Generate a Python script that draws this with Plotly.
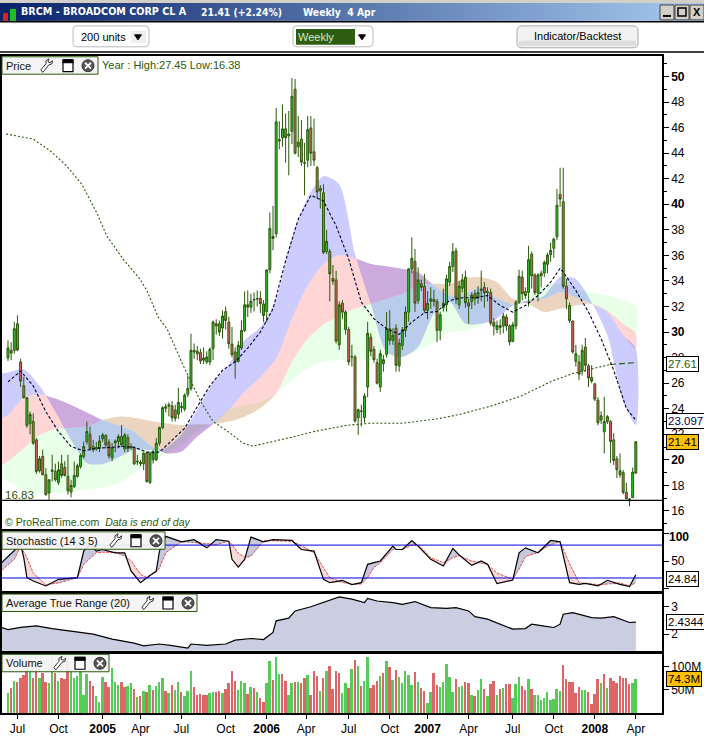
import plotly.graph_objects as go

W, H = 704, 736
FONT = "Liberation Sans"
DKGREEN = "#2a5a0a"

price_open = [
 27.97,28.57,28.57,30.65,27.66,25.8,22.68,22.83,23.0,21.56,
 19.14,20.26,18.83,17.4,19.1,19.1,18.23,19.69,19.4,18.7,
 17.48,17.92,18.7,19.48,20.26,21.43,22.0,21.04,20.86,20.9,
 21.64,21.9,21.38,20.18,21.32,21.43,21.82,20.86,21.74,21.04,
 20.96,19.9,19.69,19.69,20.52,18.23,20.0,20.0,21.3,22.52,
 24.03,24.2,24.23,23.9,23.58,24.1,23.97,25.12,25.58,28.57,
 28.5,28.39,27.97,27.66,27.66,28.7,30.65,30.65,30.31,31.6,
 30.78,29.06,28.44,27.71,28.75,30.13,32.13,31.95,32.5,32.58,
 32.65,32.2,31.6,34.88,37.48,37.7,45.06,45.2,45.9,45.35,
 45.7,49.0,44.5,45.1,43.2,43.45,45.97,44.1,42.86,41.25,
 40.9,36.3,36.3,34.2,34.08,29.0,32.26,30.2,30.2,28.05,
 28.05,23.3,23.8,23.3,25.7,29.6,28.65,27.6,25.7,27.53,
 28.26,30.26,29.35,30.3,27.35,28.96,30.13,31.56,34.94,35.53,
 32.47,33.77,33.58,31.7,32.4,32.55,32.4,30.13,31.9,32.13,
 33.9,35.14,36.36,32.13,33.43,34.3,32.29,32.39,33.0,32.65,
 33.25,33.5,33.1,33.1,30.78,30.2,30.5,30.47,31.17,30.47,
 29.27,30.47,32.34,34.3,33.17,33.1,36.1,34.47,33.04,34.4,
 34.62,35.3,36.05,36.55,37.45,40.78,40.2,33.58,32.08,30.86,
 27.7,27.66,27.0,28.83,27.35,26.44,25.95,24.67,23.1,22.2,
 23.0,23.0,21.56,20.08,18.83,19.0,17.45,16.8,17.06,18.96]
price_high = [
 29.35,29.2,30.8,31.3,27.9,26.5,24.9,23.77,23.64,21.7,
 20.3,20.8,19.35,18.44,20.4,19.7,19.87,20.39,19.9,20.39,
 18.44,19.87,19.7,20.5,21.43,22.99,22.6,21.56,21.4,21.9,
 22.1,22.0,21.6,21.3,21.6,22.0,22.73,22.1,22.0,21.3,
 21.05,20.4,20.0,20.6,20.6,20.6,20.8,21.69,22.6,24.2,
 24.4,24.5,24.6,24.3,25.64,24.5,25.2,26.6,29.87,29.1,
 28.9,28.7,28.8,28.5,28.8,30.9,31.0,30.9,31.7,32.0,
 31.2,30.4,28.8,29.3,30.9,33.17,33.25,33.0,33.1,33.25,
 33.2,32.5,34.9,39.35,39.87,47.53,46.5,47.8,47.1,47.3,
 49.87,49.8,46.9,46.6,44.8,46.9,46.9,46.7,43.0,41.5,
 41.56,38.0,36.5,35.25,34.8,32.4,32.5,31.7,30.4,29.0,
 28.2,24.0,24.3,25.2,30.8,29.9,28.9,27.9,28.6,28.2,
 31.56,31.7,30.3,30.6,29.5,30.4,32.0,35.0,37.4,36.5,
 35.06,34.1,34.55,33.2,33.5,33.3,32.6,31.6,33.4,34.5,
 35.5,36.96,36.6,34.0,34.55,34.8,32.6,33.1,33.3,33.6,
 34.8,33.9,33.5,33.4,31.1,30.9,31.0,31.5,31.4,30.6,
 30.8,32.5,34.88,34.8,33.5,36.75,36.3,34.6,34.6,34.8,
 35.6,36.2,37.0,37.4,41.2,42.86,42.86,34.15,32.3,30.9,
 29.0,28.2,29.0,29.53,27.5,27.4,26.0,24.9,23.8,24.94,
 23.5,23.1,22.08,20.3,20.5,19.2,18.2,17.0,19.4,21.45]
price_low = [
 27.74,27.8,28.3,28.5,25.7,24.8,22.5,22.0,21.17,18.9,
 19.0,18.8,17.2,16.8,18.3,18.3,18.05,18.6,18.7,17.27,
 17.06,17.8,18.6,19.3,20.1,21.2,20.7,20.6,20.7,20.6,
 21.4,20.9,20.1,19.9,20.6,20.9,21.0,20.6,20.6,20.8,
 19.6,19.6,19.5,19.2,18.2,18.1,19.7,19.9,21.1,22.4,
 23.7,23.4,23.0,23.0,23.2,23.7,23.8,24.9,25.4,27.9,
 27.8,27.5,27.5,27.5,27.4,27.8,29.8,29.7,29.5,30.2,
 28.7,28.0,26.36,27.6,28.6,30.0,31.17,31.5,31.6,32.0,
 31.5,30.8,30.78,34.6,36.4,37.4,44.3,44.5,43.25,42.26,
 44.7,43.9,43.7,43.0,40.7,42.9,43.0,43.0,40.4,39.66,
 36.1,36.1,32.4,33.7,29.1,28.6,31.0,29.8,27.4,27.3,
 22.9,21.95,22.6,22.9,24.9,28.1,27.6,25.9,25.3,26.9,
 28.0,29.0,29.0,26.9,26.9,28.6,29.6,30.8,34.6,31.56,
 32.2,33.2,31.5,31.0,31.8,32.0,29.2,29.35,31.6,31.6,
 33.6,34.7,32.2,31.8,33.1,31.9,30.65,31.8,32.1,32.2,
 32.4,31.9,32.4,30.5,29.74,29.9,29.8,29.9,30.1,28.96,
 29.2,30.2,32.2,32.5,32.6,32.0,33.4,32.9,32.4,33.5,
 34.3,34.6,35.5,35.8,37.2,39.8,33.4,31.8,30.7,28.3,
 27.3,26.23,26.6,26.9,25.7,26.0,24.6,22.7,22.8,20.5,
 22.8,19.74,19.6,18.57,18.6,17.3,16.9,16.36,17.0,18.9]
price_close = [
 28.75,28.36,30.26,28.6,26.16,24.86,24.86,23.56,21.3,19.1,
 20.08,18.83,17.27,18.44,19.2,18.44,19.22,18.78,18.78,17.58,
 18.0,18.78,19.53,20.34,21.04,22.21,20.86,20.78,20.96,21.48,
 21.95,21.17,20.31,20.96,21.48,21.82,21.17,21.95,20.86,20.96,
 19.69,19.85,19.82,20.52,18.31,20.52,20.6,21.3,22.52,24.08,
 24.16,24.3,23.3,23.25,24.49,24.16,25.06,25.58,28.57,28.44,
 28.3,27.74,27.8,28.05,28.65,30.78,30.47,30.0,31.25,30.9,
 29.09,28.23,27.66,28.96,30.13,32.13,31.95,32.42,32.55,32.62,
 32.23,31.3,34.86,38.1,37.32,46.44,44.96,45.9,45.2,45.5,
 48.44,44.0,44.86,43.3,43.25,45.84,44.0,43.45,40.96,41.06,
 36.23,37.1,34.55,33.97,29.3,32.13,31.56,31.56,27.66,28.07,
 23.04,23.92,23.82,25.0,29.9,28.5,27.84,26.0,28.3,27.84,
 30.26,29.35,29.74,27.4,29.14,30.18,31.56,34.94,35.77,32.26,
 34.08,33.5,31.7,32.26,32.6,32.4,30.13,31.35,32.26,34.16,
 35.14,36.28,32.6,33.58,34.08,32.29,32.03,32.9,32.6,33.1,
 33.37,33.06,33.15,30.7,30.47,30.52,30.35,31.25,30.47,29.22,
 30.57,32.34,34.36,33.0,32.86,35.66,34.4,33.1,34.47,34.6,
 35.45,36.03,36.4,37.27,39.92,40.4,33.58,32.6,30.9,28.44,
 28.3,26.7,28.57,27.4,26.4,26.16,24.75,22.9,23.45,23.0,
 23.38,21.43,19.95,19.22,19.14,17.45,16.96,16.94,19.04,21.41]
weeks = list(range(len(price_close)))

band_weeks = [-2] + list(range(0, 200, 5)) + [199]
ma_a = [26.75,26.83,27.09,25.79,23.77,21.56,19.74,19.66,20.18,20.78,20.78,20.91,22.0,23.9,26.05,27.48,
        29.35,30.39,32.6,37.4,40.52,42.2,41.56,36.1,32.2,28.44,28.05,28.83,31.43,32.34,
        30.65,30.65,31.04,32.08,32.34,32.86,34.3,34.16,32.34,29.74,24.55,22.73]
ma_b = [23.3,23.5,24.86,25.12,24.8,24.29,23.71,23.12,22.68,22.2,21.17,20.52,20.65,21.82,22.78,23.9,
        25.32,26.49,27.92,31.04,33.64,35.32,36.03,35.77,35.32,35.14,34.94,34.68,33.64,32.86,
        32.99,33.5,32.6,32.2,32.47,32.6,33.12,32.73,32.2,31.56,29.74,28.7]
ma_c = [19.61,19.87,20.91,21.95,22.42,22.52,22.6,23.12,23.38,23.3,23.06,22.86,22.73,22.78,22.78,22.99,
        23.38,24.03,25.19,27.66,29.48,30.57,31.3,31.82,32.2,32.6,32.99,33.64,33.77,33.77,
        34.2,34.29,33.9,32.6,32.2,31.56,31.82,32.08,32.2,31.69,30.65,29.87]
ma_d = [18.57,18.31,17.66,17.4,17.4,17.48,17.66,17.79,18.18,18.96,19.87,20.52,21.17,22.21,22.94,23.9,
        24.29,24.55,25.19,26.23,27.14,27.71,27.79,27.79,27.79,28.05,28.05,28.57,29.22,30.0,
        30.13,30.52,31.3,32.29,32.86,33.64,33.77,33.43,33.12,32.86,32.47,32.08]

ma20_weeks = [0,4,8,12,16,20,24,28,32,36,40,44,48,52,56,60,64,68,72,76,80,84,88,92,96,100,104,108,112,116,
              120,124,128,132,136,140,144,148,152,156,160,164,168,172,175,176,180,184,188,192,196,199]
ma20 = [26.1,26.94,25.79,23.77,22.21,21.04,20.7,20.91,20.96,21.04,20.99,20.6,20.6,21.56,22.47,24.16,25.79,27.01,
        27.66,28.75,30.0,31.82,35.58,38.83,40.7,40.26,38.31,35.71,32.34,31.04,30.26,29.82,30.78,31.51,31.61,32.47,
        32.68,32.68,32.86,32.08,31.56,32.08,32.86,33.9,34.99,34.68,33.25,31.56,29.48,27.01,24.03,23.097]

ma200_weeks = [-0.6,8,13.3,18.6,23.4,28.1,31.3,32.9,36.5,41.8,44,47.6,50.4,55.5,61,65,70.4,74.5,77.6,90.4,96.7,107.4,114.7,125,136,143.3,
               153.8,162.3,172.8,179,185.5,190.8]
ma200 = [45.5,45.1,44.2,43.0,41.56,39.35,37.53,36.96,35.7,34.16,33.25,31.17,30.26,27.4,24.6,23.0,22.1,21.3,21.07,21.8,22.2,22.7,22.86,
         22.86,23.2,23.56,24.26,24.96,26.2,26.75,27.15,27.46]
ma200_tail_weeks = [190.8, 199]
ma200_tail = [27.46, 27.61]
low_level = 16.83

stoch_weeks = [-2,2,4,5,6,8,12,16,22,24,26,28,30,34,37,39,42,44,47,48,50,55,59,63,66,70,71,73,75,77,81,84,90,93,97,
               100,102,106,109,112,114,116,118,122,123,125,128,130,134,138,141,143,147,150,152,155,160,162,164,168,
               172,175,178,181,183,187,190,194,197,199]
stoch_k = [47,68,80,56,19.6,13.6,4.5,16.6,19.6,68,80,68,71,65,65,32,10.5,19.6,32,68,95,85,89,74,89,86,53,39,53,93.6,85,89,87.5,71,68,
           16.6,10.5,14.8,7,10.5,44,47,50,77,71,71,87.5,77,53,41,73,61,42,50,44,8.7,15.4,65,74,65,
           87.5,85,10.5,7.5,9.3,4.5,14.8,7.5,3.3,24.84]
stoch_d = [33,53,77,66,56,28,7,10,19.6,44,55,65,66,66,59,50,25.7,20,30,37,65,85,84,81,80,86,80,64,57,59,87,87,86,78,65,
           38,19.6,11,7.5,8,20,38,47,71,71,71,79,80,56,47,56,60,50,45.7,43.7,28,16.6,35,58,66,
           80,85,45,10.5,9,7,8,10,4.5,10.5]
stoch_levels = [79, 19]

atr_weeks = [-2,0,4,9,14,21,27,33,40,43,48,52,57,58,63,69,72,77,81,84,85,89,91,96,99,105,109,113,114,117,122,125,129,
             134,139,142,146,148,152,157,160,164,166,170,173,175,176,179,182,185,188,192,197,199]
atr = [2.24,2.16,2.24,2.30,2.20,2.08,2.0,1.82,1.67,1.57,1.64,1.58,1.49,1.64,1.59,1.64,1.78,1.84,1.80,2.06,2.48,2.58,
       2.84,2.99,3.11,3.35,3.27,3.14,3.29,3.2,3.14,3.08,3.18,2.96,2.93,2.96,2.84,2.63,2.54,2.30,2.18,2.2,2.36,2.29,
       2.24,2.36,2.72,2.78,2.70,2.60,2.58,2.63,2.42,2.4344]

volume_m = [
 43.6,53.6,70,66.4,75,82,102,95,75,100,75.7,85.7,66.4,64.3,121,85.7,68.6,75,72.9,116,
 95,75,80.7,91.4,39.3,84.3,70,57.9,36.4,23.6,77,66.4,55.7,96,66.4,60.7,66.4,55.7,57.9,64.3,
 50.7,34.3,36.4,47,45,60,50,57.9,66.4,75,47,43,61.4,50,66.4,45,36.4,47,91.4,57,
 39.3,41.4,39.3,39.3,43,44.3,45,47,43,51.4,64.3,91.4,68.6,50,68.6,64.3,41.4,55.7,54.3,45,
 32,23.6,64.3,111,71.4,120,84.3,84.3,68.6,39.3,64.3,66.4,66.4,64.3,75,82.9,39.3,90,79.3,47,
 75,91.4,100.7,52,90,87,43.6,65,54.3,94.3,
 114,100.7,57.9,68.6,120,53.6,61.4,68.6,79.3,85.7,111.4,98.6,70.7,92,77,64.3,90,81.4,60,87.9,
 66.4,53.6,47,21.4,45,85.7,60,55.7,66.4,105,77,45,72.9,55.7,57.9,66.4,64.3,38.6,36.4,49.3,
 72.9,51.4,36.4,62,68.6,38.6,51.4,53.6,62,62,32,62,77,57.9,48.6,72.9,50.7,38.6,38.6,27.9,
 32,45,27.9,30,51.4,47,102.9,72.9,66.4,66.4,42.9,55.7,49.3,49.3,45,19.3,40.7,72.9,64.3,83.6,
 53.6,75,68.6,64.3,79.3,75,75,62,64.3,74.3]
volume_dir = ("grgrrrrgrr" "grrggrgrrr" "ggggggrrgg" "grrgggrrgg" "rgrgrgrggg"
              "rgrggrgggr" "rrrrggrrgr" "rrrgggrgrg" "rrggrggrrg" "grgrrgrrrg"
              "rgrrrrggrg" "rgrggrrrgr" "grgrgggggr" "grrggrrggg" "ggrggrrgrg"
              "grgrrgrgrr" "gggrrgrggg" "ggggggrrrr" "rrggrrrrgr" "grrrrrrrgg")

month_ticks = [3,16,30,42,55,69,82,94.5,108,121,133,146,160,173,186,199]
month_labels = ["Jul","Oct","<b>2005</b>","Apr","Jul","Oct","<b>2006</b>","Apr","Jul","Oct","<b>2007</b>","Apr","Jul","Oct","<b>2008</b>","Apr"]
price_ticks = list(range(16, 52, 2))
price_labels = [f"<b>{p}</b>" if p % 10 == 0 else str(p) for p in price_ticks]


def fx(px): return px / W
def fy(py): return 1 - py / H

shapes, notes = [], []

def rect(x0, y0, x1, y1, fill=None, line=None, lw=1):
    shapes.append(dict(type="rect", xref="paper", yref="paper", x0=fx(x0), x1=fx(x1), y0=fy(y1), y1=fy(y0),
                       fillcolor=fill or "rgba(0,0,0,0)", line=dict(color=line or "rgba(0,0,0,0)", width=lw if line else 0)))

def path(points, close=False, fill=None, line="#000", lw=1):
    d = "M" + " L".join(f"{fx(a):.5f},{fy(b):.5f}" for a, b in points) + (" Z" if close else "")
    shapes.append(dict(type="path", xref="paper", yref="paper", path=d, fillcolor=fill or "rgba(0,0,0,0)",
                       line=dict(color=line, width=lw)))

def round_rect(x0, y0, x1, y1, r, fill, line):
    c = lambda a, b: f"{fx(a):.5f},{fy(b):.5f}"
    d = (f"M{c(x0+r,y0)} L{c(x1-r,y0)} Q{c(x1,y0)} {c(x1,y0+r)} L{c(x1,y1-r)} Q{c(x1,y1)} {c(x1-r,y1)} "
         f"L{c(x0+r,y1)} Q{c(x0,y1)} {c(x0,y1-r)} L{c(x0,y0+r)} Q{c(x0,y0)} {c(x0+r,y0)} Z")
    shapes.append(dict(type="path", xref="paper", yref="paper", path=d, fillcolor=fill, line=dict(color=line, width=1)))

def text(x, y, s, size=11, color="#000", anchor="left", family=FONT, box=None, border=None, pad=1):
    a = dict(xref="paper", yref="paper", x=fx(x), y=fy(y), text=s, showarrow=False, xanchor=anchor, yanchor="middle",
             font=dict(size=size, color=color, family=family), borderpad=pad)
    if box: a["bgcolor"] = box
    if border:
        a["bordercolor"] = border
        a["borderwidth"] = 1
    notes.append(a)

def panel_label(x1, y0, label, wr, wi, xc):
    rect(2, y0, x1, y0 + 17.5, fill="rgba(244,244,244,0.92)", line=DKGREEN, lw=1)
    text(4, y0 + 9, label, size=11, color="#111")
    yc = y0 + 9
    path([(wr - 5, yc + 6), (wr - 4, yc + 6.5), (wr + 2, yc - 1), (wr + 5, yc - 2), (wr + 5.5, yc - 5), (wr + 3, yc - 3), (wr + 1, yc - 4),
          (wr + 2, yc - 7), (wr - 1, yc - 5), (wr - 1, yc - 2), (wr - 6, yc + 4)], close=True, fill="#fff", line="#333", lw=1)
    rect(wi - 5, yc - 6, wi + 5, yc + 6, fill="#fff", line="#000", lw=1.2)
    rect(wi - 5, yc - 6, wi + 5, yc - 3, fill="#000", line="#000", lw=1)
    shapes.append(dict(type="circle", xref="paper", yref="paper", x0=fx(xc - 6), x1=fx(xc + 6), y0=fy(yc + 6), y1=fy(yc - 6),
                       fillcolor="#555", line=dict(color="#333", width=1)))
    path([(xc - 3, yc - 3), (xc + 3, yc + 3)], line="#fff", lw=1.8)
    path([(xc - 3, yc + 3), (xc + 3, yc - 3)], line="#fff", lw=1.8)

# ---------------- window chrome ----------------
rect(0, 0, W, 3, fill="#d4d0c8")
steps = 88
for k in range(steps):
    t = k / (steps - 1)
    col = f"rgb({int(10+156*t)},{int(36+166*t)},{int(106+134*t)})"
    rect(k * W / steps, 3, (k + 1) * W / steps + 0.6, 21, fill=col)
rect(0, 21, W, 22.5, fill="#000")
rect(0, 51.5, W, 53, fill="#000")
rect(3, 13, 8, 21, fill="#e02020")
rect(10, 9, 16, 21, fill="#20c020")
TITLE_FONT = "DejaVu Sans Condensed, DejaVu Sans"
text(19, 12, "<b>BRCM - BROADCOM CORP CL A</b>", size=10.7, color="#fff", family=TITLE_FONT)
text(199, 12, "<b>21.41 (+2.24%)</b>", size=10.3, color="#fff", family=TITLE_FONT)
text(301, 12, "<b>Weekly  4 Apr</b>", size=10.3, color="#fff", family=TITLE_FONT)
for bx in (660, 675, 690):
    rect(bx, 5, bx + 14, 20, fill="#d4d0c8", line="#444", lw=1)
path([(663, 16), (671, 16)], line="#000", lw=2)
rect(678, 8, 686, 16, line="#000", lw=1.5)
text(697, 12.5, "<b>X</b>", size=11, anchor="center")
round_rect(73, 26, 149, 47, 4, "#fff", "#bbb")
text(79, 37, "200 units", size=11)
rect(131, 31, 146, 43, fill="#eeeeee")
path([(134.5, 35), (141.5, 35), (138, 40)], close=True, fill="#000", line="#000")
round_rect(293, 26, 373, 47, 4, "#fff", "#bbb")
rect(296, 29, 355, 45, fill="#2e5c10")
text(296, 37, "Weekly", size=11, color="#d8e8c8")
path([(358.5, 35), (365.5, 35), (362, 40)], close=True, fill="#000", line="#000")
round_rect(517, 26, 638, 48, 5, "#f2f2f2", "#aaa")
rect(519, 41, 636, 46, fill="#dddddd")
text(577, 36.5, "Indicator/Backtest", size=11, anchor="center")

# ---------------- traces ----------------
fig = go.Figure()

def band(a, b, color):
    fig.add_trace(go.Scatter(x=band_weeks + band_weeks[::-1], y=a + b[::-1], mode="lines", fill="toself",
                             fillcolor=color, line=dict(width=0, shape="spline", smoothing=0.7),
                             hoverinfo="skip", showlegend=False))

band(ma_c, ma_d, "rgba(0,255,0,0.09)")
band(ma_b, ma_c, "rgba(255,0,0,0.165)")
band(ma_a, ma_b, "rgba(0,0,255,0.20)")

fig.add_trace(go.Candlestick(x=weeks, open=price_open, high=price_high, low=price_low, close=price_close,
                             xaxis="x", yaxis="y5", showlegend=False, whiskerwidth=0,
                             increasing=dict(fillcolor="#2fc02f", line=dict(color=DKGREEN, width=1)),
                             decreasing=dict(fillcolor="#e46060", line=dict(color=DKGREEN, width=1))))
fig.add_trace(go.Scatter(x=ma200_weeks, y=ma200, mode="lines", xaxis="x", yaxis="y5", showlegend=False,
                         line=dict(color=DKGREEN, width=1.1, dash="2px,2px")))
fig.add_trace(go.Scatter(x=ma200_tail_weeks, y=ma200_tail, mode="lines", xaxis="x", yaxis="y5", showlegend=False,
                         line=dict(color=DKGREEN, width=1.1, dash="6px,3px")))
fig.add_trace(go.Scatter(x=ma20_weeks, y=ma20, mode="lines", xaxis="x", yaxis="y5", showlegend=False,
                         line=dict(color="#000030", width=1.1, dash="3px,2px")))
fig.add_trace(go.Scatter(x=[-2, 207.4], y=[low_level, low_level], mode="lines", xaxis="x", yaxis="y5", showlegend=False,
                         line=dict(color="#000", width=1.3)))

# stochastic
stoch_low = [min(k, d) for k, d in zip(stoch_k, stoch_d)]
fig.add_trace(go.Scatter(x=stoch_weeks + stoch_weeks[::-1], y=stoch_k + stoch_low[::-1], mode="lines", fill="toself",
                         fillcolor="#c6c8de", line=dict(width=0), xaxis="x2", yaxis="y2", showlegend=False))
fig.add_trace(go.Scatter(x=stoch_weeks + stoch_weeks[::-1], y=stoch_d + stoch_low[::-1], mode="lines", fill="toself",
                         fillcolor="#f8dada", line=dict(width=0), xaxis="x2", yaxis="y2", showlegend=False))
fig.add_trace(go.Scatter(x=stoch_weeks, y=stoch_d, mode="lines", xaxis="x2", yaxis="y2", showlegend=False,
                         line=dict(color="#e05050", width=1, dash="3px,1px")))
fig.add_trace(go.Scatter(x=stoch_weeks, y=stoch_k, mode="lines", xaxis="x2", yaxis="y2", showlegend=False,
                         line=dict(color="#000", width=1.2)))
for lv in stoch_levels:
    fig.add_trace(go.Scatter(x=[-2, 207.4], y=[lv, lv], mode="lines", xaxis="x2", yaxis="y2", showlegend=False,
                             line=dict(color="#0000e0", width=1)))

# ATR
fig.add_trace(go.Scatter(x=atr_weeks, y=atr, mode="lines", fill="tozeroy", fillcolor="#cbcde0",
                         line=dict(color="#000", width=1.2), xaxis="x3", yaxis="y3", showlegend=False))

# volume
fig.add_trace(go.Bar(x=weeks, y=volume_m, width=0.62, xaxis="x4", yaxis="y4", showlegend=False,
                     marker=dict(color=["#55cc55" if c == "g" else "#dd6666" for c in volume_dir], line=dict(width=0))))

# ---------------- labels ----------------
panel_label(98, 57, "Price", 47, 68, 88)
text(100, 65, "Year : High:27.45 Low:16.38", size=11, color=DKGREEN)
panel_label(165, 534, "Stochastic (14 3 5)", 116, 136, 156)
panel_label(197, 596.5, "Average True Range (20)", 148, 168, 188)
panel_label(109, 657, "Volume", 60, 80, 100)
text(3, 497, "16.83", size=11.5, color=DKGREEN)
text(3, 524, "© ProRealTime.com  <i>Data is end of day</i>", size=10.5, color=DKGREEN)
text(667, 539, "<b>100</b>", size=12)
text(666, 365.5, "27.61", size=11.5, color=DKGREEN, box="#fff", border="#000")
text(666, 422.5, "23.097", size=11.5, color="#000050", box="#fff", border="#000")
text(666, 443.5, "21.41", size=11.5, color="#000", box="#ffc000", border="#000")
text(666, 581, "24.84", size=11.5, color="#000", box="#fff", border="#000")
text(666, 625, "2.4344", size=11.5, color="#000", box="#fff", border="#000")
text(666, 682, "74.3M", size=11.5, color="#000", box="#ffc000", border="#000")

# ---------------- axes ----------------
XR = [-1.9, 207.3]
XD = [2 / W, 662 / W]
tickfont = dict(family=FONT, size=12, color="#000")

def xa(anchor, **kw):
    return dict(domain=XD, range=XR, anchor=anchor, showgrid=False, zeroline=False, showline=True, linecolor="#000",
                linewidth=1.6, mirror=True, showticklabels=False, ticks="", rangeslider=dict(visible=False), **kw)

def ya(anchor, dom, rng, vals, labels, **kw):
    return dict(domain=[1 - dom[1] / H, 1 - dom[0] / H], range=rng, anchor=anchor, side="right", showgrid=False, zeroline=False,
                showline=True, linecolor="#000", linewidth=1.6, mirror=True, ticks="outside", ticklen=5, tickwidth=1,
                tickcolor="#000", tickmode="array", tickvals=vals, ticktext=labels, tickfont=tickfont, **kw)

fig.update_layout(
    width=W, height=H, autosize=False, margin=dict(l=0, r=0, t=0, b=0), paper_bgcolor="#fff", plot_bgcolor="#fff",
    bargap=0, boxgap=0.12, showlegend=False, hovermode=False, shapes=shapes, annotations=notes,
    xaxis=xa("y"), xaxis2=xa("y2"), xaxis3=xa("y3"),
    xaxis4=dict(xa("y4"), showticklabels=True, ticks="outside", ticklen=4, tickcolor="#000", tickmode="array",
                tickvals=month_ticks, ticktext=month_labels, tickfont=tickfont),
    yaxis=ya("x", (56, 531), [14.6, 51.62], price_ticks, price_labels,
             minor=dict(ticks="outside", ticklen=3, tickcolor="#000", tickmode="array", tickvals=list(range(15, 52, 2)))),
    yaxis5=dict(overlaying="y", range=[14.6, 51.62], anchor="x", side="right", showticklabels=False, ticks="",
                showgrid=False, zeroline=False),
    yaxis2=ya("x2", (533.3, 593.3), [-4.5, 104.5], [100, 50, 0], ["", "50", ""]),
    yaxis3=ya("x3", (596.3, 653.3), [1.40, 3.458], [3, 2], ["3", "2"]),
    yaxis4=ya("x4", (656.7, 716), [0, 127], [100, 50], ["100M", "50M"]),
)

fig.write_html("out.html", config=dict(displayModeBar=False),
               post_script="document.body.style.margin='0';document.body.style.overflow='hidden';")
